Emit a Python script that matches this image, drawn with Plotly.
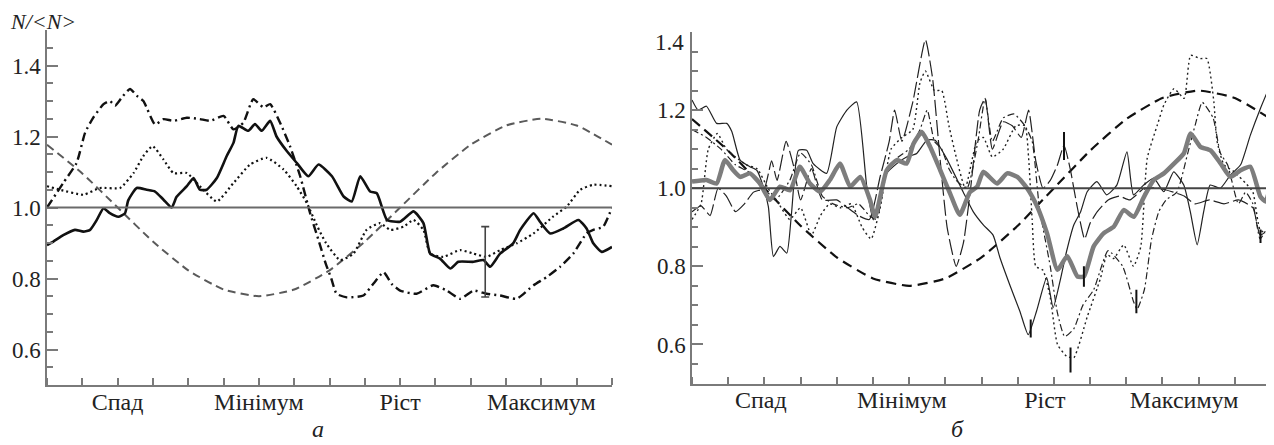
import plotly.graph_objects as go

# ---------------- data ----------------
phase_labels = ["Спад", "Мінімум", "Ріст", "Максимум"]
left_label_pos = [2, 6, 10, 14]
right_label_pos = [1.9, 5.8, 9.75, 13.6]
y_ticks = [0.6, 0.8, 1.0, 1.2, 1.4]
ref_level = 1.0

# model cycle curve (dashed), sampled at integer phase steps
cycle_x = list(range(17))
cycle_y = [1.177, 1.096, 1.0, 0.904, 0.823, 0.769, 0.75, 0.769, 0.823,
           0.904, 1.0, 1.096, 1.177, 1.231, 1.25, 1.231, 1.177]

# ---- panel a ----
a_solid = [(0, 0.894), (0.18, 0.904), (0.46, 0.922), (0.79, 0.937), (1.03, 0.932), (1.22, 0.937),
           (1.41, 0.965), (1.6, 0.998), (1.78, 0.984), (2.02, 0.974), (2.21, 0.984), (2.3, 1.02),
           (2.54, 1.055), (2.82, 1.05), (3.06, 1.045), (3.3, 1.022), (3.53, 1.0), (3.67, 1.03),
           (3.96, 1.06), (4.15, 1.083), (4.33, 1.05), (4.52, 1.05), (4.81, 1.083), (5.09, 1.145),
           (5.28, 1.182), (5.42, 1.23), (5.7, 1.216), (5.89, 1.235), (6.08, 1.216), (6.32, 1.244),
           (6.5, 1.2), (6.79, 1.159), (7.07, 1.126), (7.4, 1.088), (7.69, 1.121), (8.07, 1.088),
           (8.4, 1.031), (8.63, 1.017), (8.87, 1.088), (9.15, 1.045), (9.34, 1.04), (9.63, 0.965),
           (10.0, 0.96), (10.38, 0.989), (10.66, 0.956), (10.85, 0.87), (11.13, 0.856), (11.42, 0.828),
           (11.65, 0.847), (12.08, 0.847), (12.36, 0.852), (12.55, 0.833), (12.83, 0.87), (13.2, 0.899),
           (13.4, 0.937), (13.78, 0.984), (13.96, 0.96), (14.25, 0.927), (14.62, 0.941), (15.05, 0.965),
           (15.28, 0.941), (15.47, 0.899), (15.71, 0.875), (16.0, 0.889)]

a_dotted = [(0, 1.06), (0.37, 1.05), (1.03, 1.036), (1.5, 1.055), (2.07, 1.055), (2.45, 1.097),
            (2.73, 1.145), (2.99, 1.173), (3.3, 1.135), (3.58, 1.097), (3.96, 1.097), (4.33, 1.06),
            (4.81, 1.017), (5.28, 1.069), (5.75, 1.121), (6.22, 1.14), (6.7, 1.107), (7.07, 1.06),
            (7.36, 1.012), (7.64, 0.95), (7.9, 0.9), (8.3, 0.852), (8.68, 0.87), (9.05, 0.937),
            (9.43, 0.956), (9.72, 0.937), (10.1, 0.946), (10.38, 0.965), (10.66, 0.937), (10.85, 0.87),
            (11.22, 0.861), (11.7, 0.88), (12.08, 0.87), (12.45, 0.861), (12.83, 0.88), (13.3, 0.899),
            (13.78, 0.927), (14.34, 0.975), (14.72, 1.003), (15.1, 1.05), (15.47, 1.064), (16, 1.06)]

a_dashdot = [(0, 1.0), (0.46, 1.069), (0.84, 1.126), (1.08, 1.211), (1.31, 1.253), (1.6, 1.291),
             (1.78, 1.3), (1.93, 1.287), (2.12, 1.31), (2.35, 1.334), (2.54, 1.315), (2.73, 1.3),
             (3.06, 1.234), (3.3, 1.249), (3.58, 1.244), (3.96, 1.253), (4.33, 1.249), (4.62, 1.244),
             (5.0, 1.258), (5.28, 1.22), (5.56, 1.239), (5.84, 1.305), (6.13, 1.282), (6.32, 1.291),
             (6.6, 1.239), (6.88, 1.173), (7.17, 1.088), (7.45, 0.984), (7.69, 0.908), (7.9, 0.84),
             (8.05, 0.8), (8.2, 0.757), (8.49, 0.747), (8.96, 0.752), (9.24, 0.785), (9.53, 0.818),
             (9.76, 0.785), (10.0, 0.766), (10.47, 0.757), (10.94, 0.781), (11.32, 0.766), (11.7, 0.743),
             (12.08, 0.766), (12.45, 0.757), (12.83, 0.752), (13.3, 0.743), (13.78, 0.781), (14.15, 0.804),
             (14.53, 0.833), (14.9, 0.87), (15.28, 0.927), (15.47, 0.937), (15.75, 0.946), (16, 1.0)]

a_err_x = [12.41]
a_err_lo = [0.748]
a_err_hi = [0.946]

# ---- panel б ----
b_mean = [(0, 1.017), (0.4, 1.021), (0.68, 1.012), (0.91, 1.072), (1.14, 1.046), (1.33, 1.029),
          (1.6, 1.038), (1.88, 1.012), (2.15, 0.97), (2.43, 1.004), (2.71, 0.995), (2.98, 1.055),
          (3.26, 1.012), (3.54, 0.991), (3.81, 1.021), (4.09, 1.063), (4.37, 1.004), (4.65, 1.029),
          (4.92, 0.97), (5.06, 0.927), (5.38, 1.046), (5.66, 1.072), (5.93, 1.063), (6.12, 1.114),
          (6.35, 1.144), (6.58, 1.106), (6.86, 1.046), (7.13, 0.987), (7.4, 0.932), (7.68, 0.99),
          (7.88, 1.004), (8.05, 1.042), (8.43, 1.012), (8.71, 1.038), (8.99, 1.029), (9.26, 1.0),
          (9.54, 0.953), (9.81, 0.885), (10.1, 0.791), (10.37, 0.826), (10.65, 0.774), (10.83, 0.774),
          (11.1, 0.851), (11.38, 0.885), (11.66, 0.902), (11.93, 0.944), (12.21, 0.927), (12.49, 0.978),
          (12.76, 1.021), (13.04, 1.038), (13.32, 1.063), (13.59, 1.089), (13.78, 1.14), (14.05, 1.106),
          (14.33, 1.097), (14.61, 1.063), (14.88, 1.029), (15.16, 1.046), (15.43, 1.055), (15.71, 0.978),
          (15.85, 0.966), (16.0, 1.012)]

b_solid = [(0, 1.226), (0.17, 1.2), (0.4, 1.21), (0.68, 1.166), (0.96, 1.166), (1.1, 1.145),
           (1.33, 1.072), (1.6, 1.055), (1.79, 1.046), (1.97, 1.004), (2.11, 0.953), (2.25, 0.825),
           (2.43, 0.851), (2.62, 0.834), (2.75, 0.936), (2.94, 1.097), (3.17, 1.097), (3.35, 1.063),
           (3.72, 1.038), (4.0, 1.157), (4.28, 1.2), (4.55, 1.221), (4.83, 1.004), (5.01, 0.919),
           (5.38, 1.038), (5.66, 1.063), (5.93, 1.08), (6.21, 1.089), (6.49, 1.123), (6.72, 1.123),
           (7.03, 1.077), (7.49, 0.991), (7.77, 0.94), (8.05, 0.906), (8.32, 0.88), (8.51, 0.822),
           (8.78, 0.753), (9.06, 0.685), (9.29, 0.625), (9.52, 0.685), (9.8, 0.771), (9.98, 0.694),
           (10.17, 0.762), (10.35, 0.838), (10.55, 0.906), (10.74, 0.94), (10.92, 0.991), (11.19, 1.017),
           (11.46, 0.983), (11.74, 1.008), (12.02, 1.093), (12.2, 0.983), (12.48, 1.008), (12.76, 1.026),
           (13.04, 0.991), (13.31, 1.042), (13.59, 1.008), (13.77, 0.94), (13.96, 0.855), (14.14, 0.94),
           (14.32, 1.008), (14.6, 1.0), (14.88, 1.034), (15.16, 1.06), (15.43, 1.136), (15.71, 1.205),
           (15.94, 1.256)]

b_longdash = [(0, 0.94), (0.25, 0.955), (0.5, 0.93), (0.72, 1.0), (0.95, 0.98), (1.2, 0.94),
              (1.45, 0.96), (1.7, 0.99), (2.0, 1.0), (2.2, 1.07), (2.35, 1.02), (2.6, 1.12),
              (2.8, 1.06), (3.0, 0.97), (3.3, 1.05), (3.6, 0.97), (4.0, 0.97), (4.3, 0.95),
              (4.6, 0.93), (4.9, 0.92), (5.2, 1.03), (5.45, 1.12), (5.6, 1.2), (5.8, 1.12),
              (6.1, 1.22), (6.45, 1.38), (6.65, 1.28), (6.85, 1.08), (7.05, 0.9), (7.3, 0.8),
              (7.5, 0.86), (7.7, 1.0), (7.95, 1.2), (8.1, 1.23), (8.3, 1.1), (8.6, 1.17),
              (8.85, 1.16), (9.1, 1.13), (9.3, 1.2), (9.5, 1.07), (9.7, 1.0), (9.9, 1.02),
              (10.1, 1.06), (10.28, 1.11), (10.45, 1.05), (10.65, 0.95), (10.85, 0.87), (11.0, 0.91),
              (11.2, 0.94), (11.5, 0.97), (11.8, 0.98), (12.1, 0.97), (12.5, 1.0), (12.9, 1.0),
              (13.3, 0.99), (13.6, 0.98), (13.9, 0.96), (14.3, 0.97), (14.7, 0.96), (15.1, 0.97),
              (15.5, 0.95), (15.7, 0.88), (16, 0.9)]

b_dotted = [(0, 0.92), (0.25, 0.96), (0.45, 1.1), (0.7, 1.14), (0.95, 1.1), (1.2, 1.08), (1.5, 1.06),
            (1.8, 1.05), (2.1, 1.0), (2.4, 0.96), (2.7, 0.92), (3.0, 0.95), (3.3, 0.88), (3.55, 0.93),
            (3.8, 0.96), (4.1, 0.95), (4.4, 0.96), (4.7, 0.9), (4.95, 0.87), (5.2, 0.95), (5.5, 1.1),
            (5.8, 1.13), (6.1, 1.15), (6.3, 1.27), (6.45, 1.3), (6.7, 1.25), (6.9, 1.25), (7.1, 1.16),
            (7.3, 1.08), (7.55, 1.0), (7.87, 1.12), (8.05, 1.13), (8.3, 1.08), (8.6, 1.1), (8.95, 1.16),
            (9.2, 1.16), (9.3, 1.08), (9.4, 0.92), (9.5, 0.8), (9.7, 0.79), (9.9, 0.72), (10.1, 0.6),
            (10.35, 0.57), (10.55, 0.566), (10.92, 0.67), (11.29, 0.77), (11.47, 0.83), (11.65, 0.82),
            (11.93, 0.855), (12.2, 0.8), (12.4, 0.85), (12.58, 1.077), (12.86, 1.162), (13.04, 1.213),
            (13.32, 1.255), (13.6, 1.23), (13.78, 1.34), (14.05, 1.332), (14.23, 1.332), (14.42, 1.222),
            (14.51, 1.12), (14.7, 1.06), (14.97, 1.043), (15.33, 1.01), (15.5, 0.99), (15.7, 0.893),
            (15.9, 0.885), (16, 0.9)]

b_dashdot = [(0, 1.15), (0.4, 1.13), (0.8, 1.1), (1.2, 1.06), (1.6, 1.04), (2.0, 1.0), (2.3, 0.97),
             (2.7, 1.02), (3.0, 1.09), (3.3, 1.06), (3.6, 0.98), (3.9, 0.96), (4.3, 0.95), (4.6, 0.96),
             (4.9, 0.93), (5.1, 0.92), (5.4, 1.05), (5.7, 1.08), (6.0, 1.1), (6.3, 1.15), (6.5, 1.2),
             (6.7, 1.12), (6.9, 1.1), (7.1, 1.05), (7.3, 1.02), (7.6, 1.0), (7.9, 1.12), (8.1, 1.23),
             (8.3, 1.12), (8.6, 1.18), (8.9, 1.19), (9.2, 1.16), (9.4, 1.12), (9.6, 0.95), (9.9, 0.8),
             (10.1, 0.68), (10.3, 0.62), (10.55, 0.64), (10.8, 0.7), (11.1, 0.74), (11.5, 0.84),
             (11.9, 0.8), (12.2, 0.71), (12.3, 0.69), (12.5, 0.74), (12.7, 0.87), (12.9, 0.94),
             (13.1, 0.97), (13.4, 0.99), (13.7, 1.09), (13.9, 1.16), (14.1, 1.22), (14.4, 1.18),
             (14.6, 1.09), (14.8, 1.06), (15.1, 0.96), (15.3, 0.99), (15.5, 0.96), (15.7, 0.87),
             (15.9, 0.9), (16, 0.92)]

b_err_x = [9.36, 10.28, 10.46, 10.83, 12.28, 15.71]
b_err_lo = [0.618, 1.072, 0.528, 0.748, 0.68, 0.86]
b_err_hi = [0.664, 1.144, 0.592, 0.80, 0.74, 0.894]

# ---------------- figure ----------------
WIN_W, WIN_H = 1274, 445
OFF = 8                      # default page (body) margin of the html page
W, H = WIN_W - OFF, WIN_H - OFF
FONT = "Liberation Serif"
AX = "#7a7a7a"


def px_x(wx):
    return (wx - OFF) / W


def px_y(wy):
    return (H - (wy - OFF)) / H


fig = go.Figure()


def xs(p):
    return [a for a, _ in p]


def ys(p):
    return [b for _, b in p]


def line(pts, xa, ya, color, width, dash, shape="spline"):
    fig.add_trace(go.Scatter(x=xs(pts), y=ys(pts), mode="lines", xaxis=xa, yaxis=ya,
                             line=dict(color=color, width=width, dash=dash, shape=shape,
                                       smoothing=0.5),
                             hoverinfo="skip"))


cycle_pts = list(zip(cycle_x, cycle_y))

# panel a
line(cycle_pts, "x", "y", "#5a5a5a", 2, "8px,5px")
line(a_dashdot, "x", "y", "#111", 2.4, "9px,4px,2px,4px")
line(a_dotted, "x", "y", "#111", 2.2, "2px,3px")
line(a_solid, "x", "y", "#111", 2.6, "solid")
fig.add_trace(go.Scatter(
    x=a_err_x, y=[(l + h) / 2 for l, h in zip(a_err_lo, a_err_hi)], mode="markers",
    marker=dict(color="rgba(0,0,0,0)", size=1), xaxis="x", yaxis="y", hoverinfo="skip",
    error_y=dict(type="data", array=[(h - l) / 2 for l, h in zip(a_err_lo, a_err_hi)],
                 color="#444", thickness=1.6, width=4)))

# panel b
line(cycle_pts, "x2", "y2", "#111", 2.2, "10px,6px")
line(b_dotted, "x2", "y2", "#222", 1.4, "2px,3px")
line(b_dashdot, "x2", "y2", "#222", 1.2, "7px,3px,2px,3px")
line(b_longdash, "x2", "y2", "#222", 1.2, "16px,4px")
line(b_solid, "x2", "y2", "#222", 1.2, "solid")
line(b_mean, "x2", "y2", "#7d7d7d", 4.5, "solid")
fig.add_trace(go.Scatter(
    x=b_err_x, y=[(l + h) / 2 for l, h in zip(b_err_lo, b_err_hi)], mode="markers",
    marker=dict(color="rgba(0,0,0,0)", size=1), xaxis="x2", yaxis="y2", hoverinfo="skip",
    error_y=dict(type="data", array=[(h - l) / 2 for l, h in zip(b_err_lo, b_err_hi)],
                 color="#111", thickness=2, width=0)))

# reference level lines
fig.add_shape(type="line", xref="x domain", yref="y", x0=0, x1=1, y0=ref_level, y1=ref_level,
              line=dict(color="#6a6a6a", width=2))
fig.add_shape(type="line", xref="x2 domain", yref="y2", x0=0, x1=1, y0=ref_level, y1=ref_level,
              line=dict(color="#444", width=2))

xtickfont = dict(family=FONT, size=24, color="#222")
ytickfont = dict(family=FONT, size=23, color="#222")


def xaxis_cfg(domain, label_pos):
    return dict(domain=domain, range=[0, 16], showline=True, linecolor=AX, linewidth=1.5,
                showgrid=False, zeroline=False, tickmode="array", tickvals=label_pos,
                ticktext=phase_labels, ticks="", tickfont=xtickfont, fixedrange=True,
                automargin=False, ticklabelstandoff=-6,
                minor=dict(tick0=0, dtick=1, ticks="inside", ticklen=7, tickwidth=1.5,
                           tickcolor=AX, showgrid=False))


def yaxis_cfg(domain, rng, anchor, texts):
    return dict(domain=domain, range=rng, anchor=anchor, showline=True, linecolor=AX, linewidth=1.5,
                showgrid=False, zeroline=False, tickmode="array", tickvals=y_ticks,
                ticktext=texts, ticks="inside", ticklen=11,
                tickwidth=1.5, tickcolor=AX, tickfont=ytickfont, fixedrange=True,
                automargin=False,
                minor=dict(tick0=0.5, dtick=0.05, ticks="inside", ticklen=6, tickwidth=1.5,
                           tickcolor=AX, showgrid=False))


y_texts = [f"{v:.1f}" for v in y_ticks]
# on panel б the top label sits a little below its tick; it is placed as an annotation
y_texts_b = y_texts[:-1] + [""]

fig.update_layout(
    width=W, height=H, margin=dict(l=0, r=0, t=0, b=0), autosize=False,
    paper_bgcolor="white", plot_bgcolor="white", showlegend=False,
    xaxis=dict(**xaxis_cfg([px_x(47), px_x(612)], left_label_pos), anchor="y"),
    yaxis=yaxis_cfg([px_y(385), px_y(30)], [0.5, 1.5], "x", y_texts),
    xaxis2=dict(**xaxis_cfg([px_x(692), px_x(1271)], right_label_pos), anchor="y2"),
    yaxis2=yaxis_cfg([px_y(383.5), px_y(32)], [0.5, 1.4], "x2", y_texts_b),
    annotations=[
        dict(text="<i>N/&lt;N&gt;</i>", xref="paper", yref="paper", x=px_x(9), y=px_y(8),
             xanchor="left", yanchor="top", showarrow=False, borderpad=0,
             font=dict(family=FONT, size=22, color="#222")),
        dict(text=y_texts[-1], xref="paper", yref="paper", x=px_x(686), y=px_y(43),
             xanchor="right", yanchor="middle", showarrow=False,
             font=ytickfont),
        dict(text="<i>а</i>", xref="paper", yref="paper", x=px_x(318), y=px_y(429),
             xanchor="center", yanchor="middle", showarrow=False,
             font=dict(family=FONT, size=24, color="#222")),
        dict(text="<i>б</i>", xref="paper", yref="paper", x=px_x(957), y=px_y(429),
             xanchor="center", yanchor="middle", showarrow=False,
             font=dict(family=FONT, size=24, color="#222")),
    ],
)

fig.write_html("out.html")
